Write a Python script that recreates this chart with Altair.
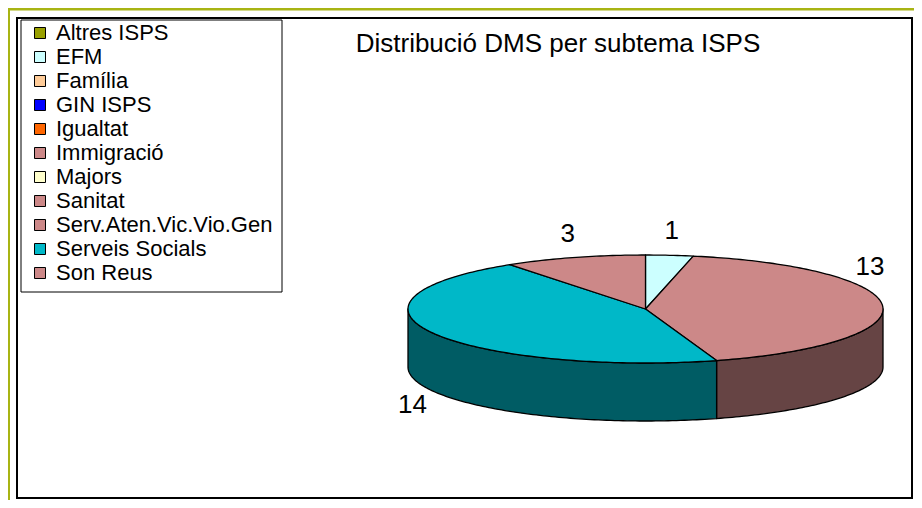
import math
import altair as alt

# ---------------- data ----------------
categories = ["Altres ISPS", "EFM", "Família", "GIN ISPS", "Igualtat", "Immigració",
              "Majors", "Sanitat", "Serv.Aten.Vic.Vio.Gen", "Serveis Socials", "Son Reus"]
values = [0, 1, 0, 0, 0, 0, 0, 13, 0, 14, 3]
colors = ["#99A000", "#CCFFFF", "#FFCC99", "#0000FF", "#FF6600", "#CC8888",
          "#FFFFCC", "#CC8888", "#CC8888", "#00B8C8", "#CC8888"]
title_text = "Distribució DMS per subtema ISPS"

# ---------------- style / geometry constants ----------------
RX, RY, DEPTH = 237.5, 54.0, 58.0      # ellipse radii and 3-D depth (px)
CX, CY = 637.5, 301.0                  # pie centre in view coordinates
TILT = RY / RX
D = DEPTH / RX
FONT = "Liberation Sans"
LABEL_MAX_X = 862.0                    # keep data labels inside the frame
LABEL_GAP_UP = 24.0                    # gap between rim and label (upper half)
LABEL_GAP_DOWN = 28.0                  # gap between bottom rim and label (lower half)


def darken(hexc, f=0.5):
    h = hexc.lstrip("#")
    r, g, b = (int(h[i:i + 2], 16) for i in (0, 2, 4))
    return "#%02X%02X%02X" % (int(r * f), int(g * f), int(b * f))


def pt(theta_deg, drop=0.0):
    t = math.radians(theta_deg)
    return [math.sin(t), -math.cos(t) * TILT + drop]


def arc(a, b, drop=0.0):
    n = max(2, int(math.ceil(abs(b - a))) + 1)
    return [pt(a + (b - a) * i / (n - 1), drop) for i in range(n)]


total = sum(values)
tops, sides, labels = [], [], []
cum = 0
for cat, v, col in zip(categories, values, colors):
    if v <= 0:
        continue
    a = cum / total * 360.0
    cum += v
    b = cum / total * 360.0
    ring = [[0.0, 0.0]] + arc(a, b) + [[0.0, 0.0]]
    tops.append({"type": "Feature",
                 "geometry": {"type": "Polygon", "coordinates": [ring]},
                 "properties": {"cat": cat}})
    sa, sb = max(a, 90.0), min(b, 270.0)
    if sa < sb:
        upper = arc(sa, sb)
        lower = arc(sa, sb, D)[::-1]
        ring = upper + lower + [upper[0]]
        sides.append({"type": "Feature",
                      "geometry": {"type": "Polygon", "coordinates": [ring]},
                      "properties": {"fill": darken(col)}})
    m = math.radians((a + b) / 2.0)
    lx = min(math.sin(m) * (RX + 22) / RX, (LABEL_MAX_X - CX) / RX)
    rim = TILT * math.sqrt(max(0.0, 1.0 - lx * lx))
    if math.cos(m) >= 0:
        ly = -rim - LABEL_GAP_UP / RX
    else:
        ly = rim + D + LABEL_GAP_DOWN / RX
    labels.append({"lon": lx, "lat": ly, "txt": str(v)})

proj = dict(type="identity", scale=RX, translate=[CX, CY])
one = alt.Data(values=[{"k": 1}])

# ---------------- decoration ----------------
olive_top = alt.Chart(one).mark_rule(color="#A8B414", strokeWidth=3).encode(
    x=alt.value(-2), x2=alt.value(910), y=alt.value(1))
olive_left = alt.Chart(one).mark_rule(color="#A8B414", strokeWidth=3).encode(
    x=alt.value(0.5), y=alt.value(0), y2=alt.value(492))
frame = alt.Chart(one).mark_rect(fill="white", stroke="black", strokeWidth=2).encode(
    x=alt.value(9), x2=alt.value(904), y=alt.value(10), y2=alt.value(490))
legend_box = alt.Chart(one).mark_rect(fill="white", stroke="black", strokeWidth=1).encode(
    x=alt.value(13), x2=alt.value(274), y=alt.value(12), y2=alt.value(284))

# ---------------- pie ----------------
side_layer = alt.Chart(alt.Data(values=sides)).mark_geoshape(
    stroke="black", strokeWidth=1.3, strokeJoin="round").encode(
    fill=alt.Fill("properties.fill:N", scale=None)).project(**proj)

top_layer = alt.Chart(alt.Data(values=tops)).mark_geoshape(
    stroke="black", strokeWidth=1.3, strokeJoin="round").encode(
    color=alt.Color("properties.cat:N",
                    scale=alt.Scale(domain=categories, range=colors),
                    legend=alt.Legend(orient="none", legendX=21, legendY=14, title=None,
                                      symbolType="square", symbolSize=121,
                                      symbolStrokeColor="black", symbolStrokeWidth=1,
                                      labelFont=FONT, labelFontSize=22, labelColor="black",
                                      rowPadding=2, labelOffset=5, padding=0,
                                      labelLimit=400))).project(**proj)

label_layer = alt.Chart(alt.Data(values=labels)).mark_text(
    font=FONT, fontSize=26, color="black", align="center", baseline="middle").encode(
    longitude="lon:Q", latitude="lat:Q", text="txt:N").project(**proj)

title_layer = alt.Chart(alt.Data(values=[{"t": title_text}])).mark_text(
    font=FONT, fontSize=26, color="black", align="center", baseline="middle").encode(
    x=alt.value(550), y=alt.value(36), text="t:N")

chart = alt.layer(olive_top, olive_left, frame, legend_box, side_layer, top_layer,
                  label_layer, title_layer).properties(
    width=906, height=492, autosize="none", padding=0,
    background="white").configure_view(strokeWidth=0)

chart.save("out.html", embed_options={"renderer": "svg", "actions": False})
